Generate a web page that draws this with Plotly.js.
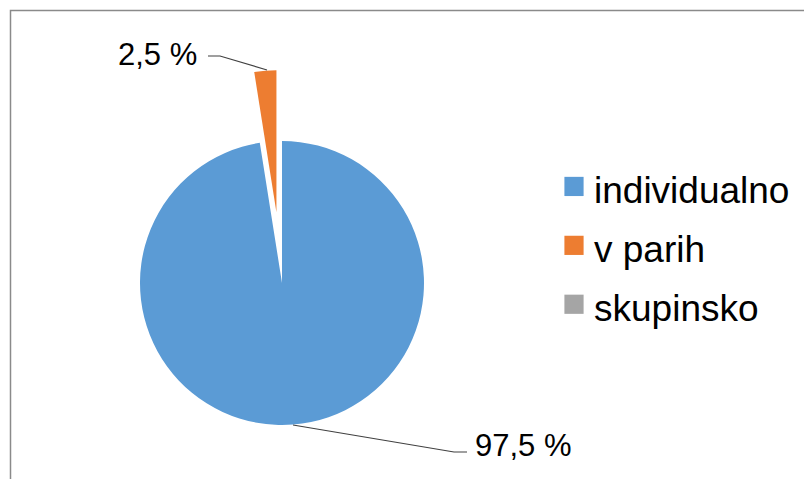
<!DOCTYPE html>
<html>
<head>
<meta charset="utf-8">
<script src="https://cdn.plot.ly/plotly-3.0.1.min.js"></script>
<style>
html, body { margin: 0; padding: 0; overflow: hidden; background: #fff; }
#chart { width: 820px; height: 500px; }
</style>
</head>
<body>
<div id="chart"></div>
<script>
// Data
const categories = ['individualno', 'v parih', 'skupinsko'];
const values = [97.5, 2.5, 0];
const colors = ['#5B9BD5', '#ED7D31', '#A5A5A5'];

const W = 820, H = 500;
const px = x => x / W;
const py = y => 1 - y / H;
const total = values.reduce((a, b) => a + b, 0);
const fmt = v => (v * 100 / total).toFixed(1).replace('.', ',') + ' %';

const FONT = 'Liberation Sans, Arial, sans-serif';

const trace = {
  type: 'pie',
  labels: categories.map(c => `<span style="font-size:37px">${c}</span>`),
  values: values,
  sort: false,
  direction: 'clockwise',
  rotation: 0,
  pull: [0, 0.5, 0],
  marker: { colors: colors, line: { width: 0 } },
  textinfo: 'none',
  hoverinfo: 'percent',
  domain: { x: [px(69), px(495)], y: [py(496), py(70)] }
};

const layout = {
  width: W, height: H,
  margin: { l: 0, r: 0, t: 0, b: 0 },
  paper_bgcolor: '#fff',
  font: { family: FONT, color: '#000' },
  showlegend: true,
  legend: {
    x: px(554), y: py(152), xanchor: 'left', yanchor: 'top',
    font: { family: FONT, size: 43, color: '#000' },
    bgcolor: 'rgba(0,0,0,0)'
  },
  annotations: [
    { text: fmt(values[1]), xref: 'paper', yref: 'paper', x: px(116), y: py(55),
      xanchor: 'left', yanchor: 'middle', showarrow: false,
      font: { family: FONT, size: 31, color: '#000' } },
    { text: fmt(values[0]), xref: 'paper', yref: 'paper', x: px(473), y: py(445),
      xanchor: 'left', yanchor: 'middle', showarrow: false,
      font: { family: FONT, size: 31, color: '#000' } }
  ],
  shapes: [
    { type: 'rect', xref: 'paper', yref: 'paper',
      x0: px(10.5), x1: 1.1, y0: -0.1, y1: py(10.5),
      line: { color: '#8a8a8a', width: 1.5 }, fillcolor: 'rgba(0,0,0,0)' },
    { type: 'path', xref: 'paper', yref: 'paper',
      path: `M ${px(208)} ${py(56)} L ${px(220)} ${py(56)} L ${px(267)} ${py(70)}`,
      line: { color: '#404040', width: 1.2 } },
    { type: 'path', xref: 'paper', yref: 'paper',
      path: `M ${px(293)} ${py(425)} L ${px(454)} ${py(452)} L ${px(467)} ${py(452)}`,
      line: { color: '#404040', width: 1.2 } }
  ]
};

Plotly.newPlot('chart', [trace], layout, { displayModeBar: false, staticPlot: true }).then(gd => {
  // enlarge legend swatches to match reference square size (keep existing offset)
  gd.querySelectorAll('.legendpie').forEach(p => {
    const t = p.getAttribute('transform') || '';
    p.setAttribute('transform', (t + ' scale(1.6)').trim());
  });
});
</script>
</body>
</html>
